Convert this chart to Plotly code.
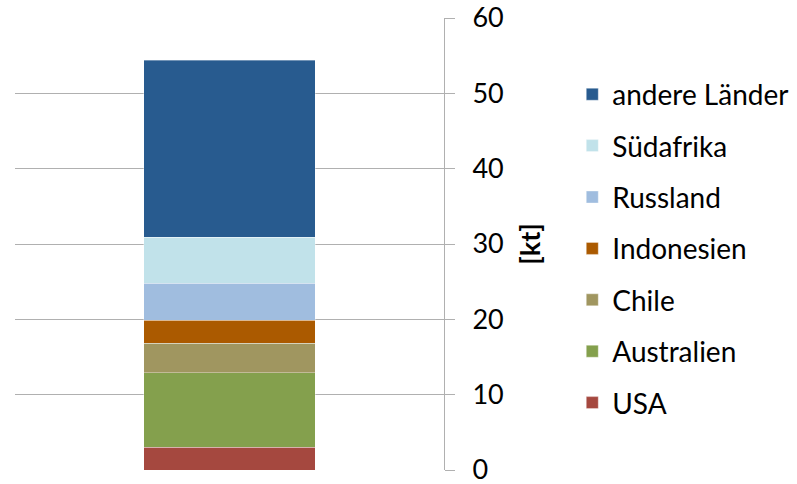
import plotly.graph_objects as go

# Data (kt), stacked bottom to top
countries = ['USA', 'Australien', 'Chile', 'Indonesien', 'Russland', 'Südafrika', 'andere Länder']
values = [3.0, 9.9, 3.9, 3.1, 4.9, 6.1, 23.5]
colors = ['#A5483F', '#84A04D', '#A09660', '#AB5A00', '#A0BDDF', '#C1E2EA', '#285B8F']
category = ['']

fig = go.Figure()

for i, (name, val, col) in enumerate(zip(countries, values, colors)):
    fig.add_trace(go.Bar(x=category, y=[val], name=name, legendgroup=name,
        legendrank=len(countries) - i,
        marker=dict(color=col, line=dict(color='rgba(255,255,255,0.35)', width=1))))

fig.update_layout(
    barmode='stack',
    bargap=0.6,
    width=797, height=484,
    margin=dict(l=15, r=353, t=18, b=14, autoexpand=False),
    plot_bgcolor='white', paper_bgcolor='white',
    font=dict(family='Lato', size=27, color='#000000'),
    showlegend=True,
    legend=dict(traceorder='grouped', tracegroupgap=12, x=1.299, xanchor='left',
                y=0.49, yanchor='middle', font=dict(size=28)),
)

fig.update_xaxes(showticklabels=False, showgrid=False, zeroline=False, showline=False)
fig.update_yaxes(side='right', range=[0, 60], dtick=10, showgrid=True, gridcolor='#B0B0B0',
                 gridwidth=1, showline=True, linecolor='#B0B0B0', ticks='outside', ticklen=10,
                 tickcolor='#B0B0B0', zeroline=False, automargin=False, ticklabelstandoff=12,
                 ticklabeloverflow='allow',
                 title=dict(text='<b>[kt]</b>', font=dict(size=27), standoff=18))

# drop the default page margin so the figure fills the window exactly
fig.write_html("out.html", config={'displayModeBar': False},
               post_script="document.body.style.margin='0';")
